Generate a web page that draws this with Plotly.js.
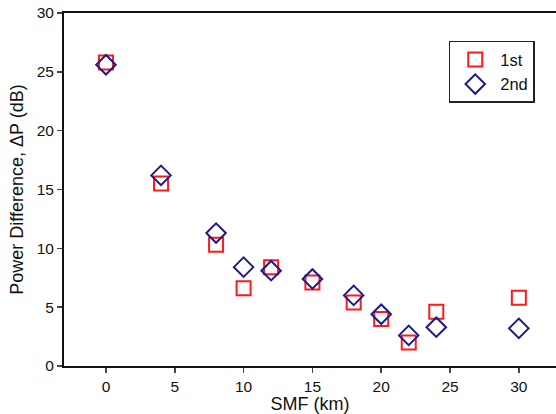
<!DOCTYPE html>
<html>
<head>
<meta charset="utf-8">
<script src="https://cdn.plot.ly/plotly-3.0.1.min.js"></script>
<style>html,body{margin:0;padding:0;background:#fff;}#chart{width:556px;height:414px;}</style>
</head>
<body>
<div id="chart"></div>
<script>
const smf1 = [0, 4, 8, 10, 12, 15, 18, 20, 22, 24, 30];
const first = [25.8, 15.5, 10.3, 6.6, 8.4, 7.1, 5.4, 4.0, 2.0, 4.6, 5.8];
const smf2 = [0, 4, 8, 10, 12, 15, 18, 20, 22, 24, 30];
const second = [25.6, 16.2, 11.3, 8.4, 8.1, 7.4, 6.0, 4.4, 2.6, 3.3, 3.2];
const xTicks = [0, 5, 10, 15, 20, 25, 30];
const yTicks = [0, 5, 10, 15, 20, 25, 30];

const traces = [
  {x: smf1, y: first, name: '1st', type: 'scatter', mode: 'markers',
   marker: {symbol: 'square-open', size: 14, color: '#ff1a1a', line: {width: 2, color: '#ff1a1a'}}},
  {x: smf2, y: second, name: '2nd', type: 'scatter', mode: 'markers',
   marker: {symbol: 'diamond-open', size: 15, color: '#1a1a8c', line: {width: 2, color: '#1a1a8c'}}}
];

const layout = {
  width: 556, height: 414,
  margin: {l: 64, r: 0, t: 13, b: 48},
  paper_bgcolor: '#fff', plot_bgcolor: '#fff',
  font: {family: 'Liberation Sans, Arial, sans-serif', size: 15.5, color: '#111'},
  showlegend: true,
  legend: {x: 0.782, y: 0.921, xanchor: 'left', yanchor: 'top',
           bordercolor: '#222', borderwidth: 1.5, bgcolor: '#fff',
           font: {size: 16.5}, tracegroupgap: 0, itemwidth: 40},
  xaxis: {range: [-3.05, 32.7], tickvals: xTicks, ticks: 'outside', ticklen: 5, tickwidth: 1.5,
          showline: true, linewidth: 2, linecolor: '#111', mirror: true, showgrid: false, zeroline: false,
          title: {text: 'SMF (km)', font: {size: 18}, standoff: 4}},
  yaxis: {range: [0, 30], tickvals: yTicks, ticks: 'outside', ticklen: 5, tickwidth: 1.5,
          showline: true, linewidth: 2, linecolor: '#111', showgrid: false, zeroline: false,
          title: {text: 'Power Difference, ΔP (dB)', font: {size: 18}, standoff: 8}}
};

Plotly.newPlot('chart', traces, layout, {displayModeBar: false, staticPlot: true});
</script>
</body>
</html>
